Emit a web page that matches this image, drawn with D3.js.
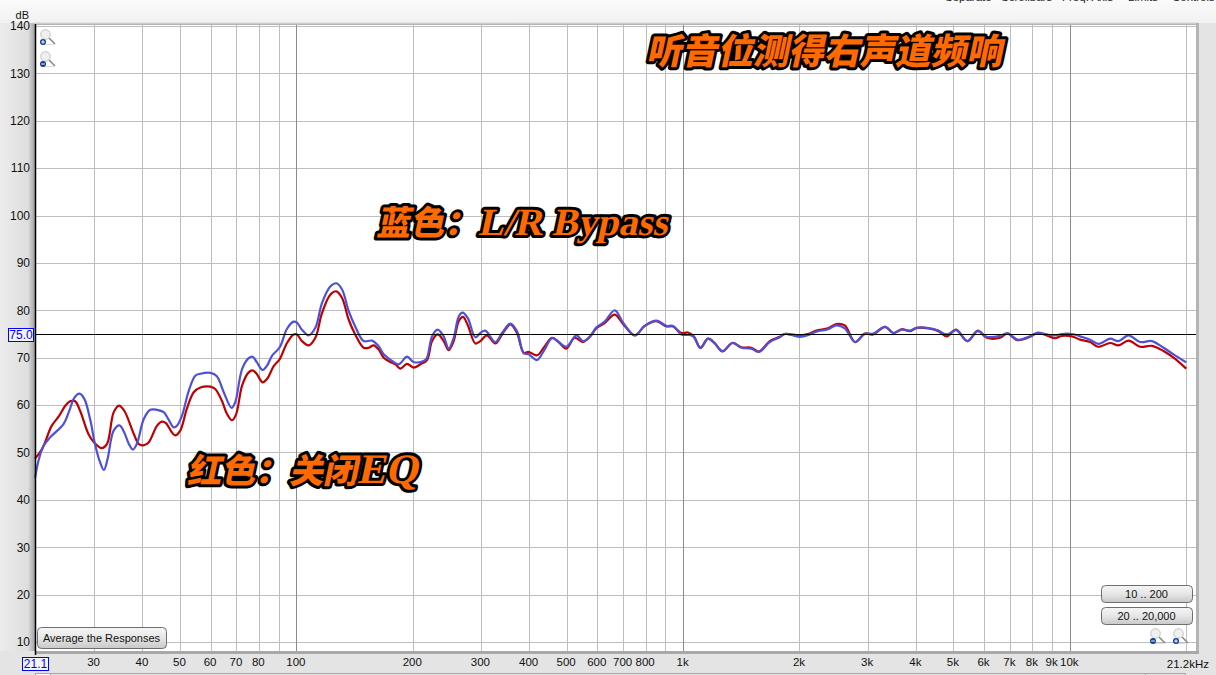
<!DOCTYPE html>
<html>
<head>
<meta charset="utf-8">
<script src="https://cdn.jsdelivr.net/npm/d3@7"></script>
<style>
html, body { margin: 0; padding: 0; background: #e4e4e4; overflow: hidden; }
svg { display: block; }
text { font-family: "Liberation Sans", Arial, sans-serif; }
.banner { font-family: "Noto Sans CJK SC", sans-serif; font-weight: 900; fill: #ff6a00; stroke: #000; stroke-width: 6px; stroke-linejoin: round; paint-order: stroke; }
.banner .latin { font-family: "Liberation Serif", serif; font-weight: 700; }
</style>
</head>
<body>
<div id="chart"></div>
<script>
// frequency in Hz, level in dB
const redFreq = [21.1,22,23.3,24.3,25.3,26.1,26.8,27.6,29,30,31.4,32.4,33.7,34.8,35.9,38,39.1,40.2,41.5,43.6,44.9,46,47.7,48.6,50.1,52.1,54.3,56.5,59.9,61.7,64.2,66.2,68.2,69.9,72.4,75.3,77.1,79.1,81.8,84,87.4,90.6,94.6,98.4,100.4,103.4,107.6,112,116.5,122.4,126.9,131.3,136.6,142,149.3,153.9,158.5,163.3,168.2,175,180.3,185.8,193.3,201,209.3,217.7,224.4,232,240.4,247.7,255.2,263,269.8,277.4,290.4,299.2,311,327,340.4,357.6,372,387.2,399,419.4,436.2,458.4,476.8,499,524.4,551,573.8,597,627,666,699.6,750,796,853,906,942,990,1030,1066,1109,1160,1207,1264,1342,1415,1502,1572,1675,1778,1832,2003,2126,2212,2371,2492,2619,2785,2950,3100,3329,3499,3677,3864,4019,4354,4574,4808,5082,5436,5782,6098,6603,6899,7323,7896,8250,8719,9164,9535,10120,10634,11288,11860,12715,13364,14180,15200,16300,17470,18540,20000];
const redDb = [48.7,50.7,55.6,57.6,59.9,60.85,60.8,58.8,53.9,52.1,50.9,51.8,58.45,59.9,58.8,53.9,51.8,51.5,52.1,55.6,56.5,56.2,54.2,53.6,54.6,59.2,62.7,63.7,63.9,63.4,60.9,58.1,56.8,58.1,64.1,66.9,67.3,66.5,64.8,65.5,68.2,69.7,73.1,74.9,74.9,73.5,72.6,74.2,79.4,83.3,84,82.6,78,74.9,72.1,72.1,72.6,71.7,70,69.1,68.6,67.7,68.7,67.9,68.6,69.5,73.5,74.9,73.5,71.6,73.5,77.7,78.6,76.9,73,73.5,74.7,73,74.9,77,75.2,71,71.2,70.5,72.1,74.2,73.3,71.9,74.2,73.3,74.4,76.2,77.3,79.1,77.1,74.7,76.7,77.7,76.6,76.6,75.2,75.3,74.5,72.1,74,73.1,71.3,73.1,72.2,72.1,71.3,73.5,74.4,75,74.7,75.1,75.7,76.2,77.1,76.8,73.3,75.1,74.9,76.5,75.2,76,75.6,76.3,76.1,75.6,74.5,75.9,73.5,75.7,74.2,74.2,75.1,73.7,74.4,75.2,74.7,74.1,74.6,74.5,73.8,73.3,72.3,73.1,72.6,73.6,72.3,72.5,71.4,70,67.7];
const blueFreq = [21.1,21.6,22.2,23.1,25,25.8,26.7,27.5,28.3,29.3,30.1,31,31.8,32.5,33.7,34.9,35.9,36.9,37.8,38.7,40.3,41.9,43.6,45.4,46.7,48.2,49.1,50.6,52.7,54.8,56.5,59.9,62.3,64.9,68,69.5,72.4,75.3,77.1,79.1,81.8,84,86.5,90.6,94.6,98.4,100.4,103.4,107.6,112,116.5,122.4,126.9,131.3,136.6,142,149.3,156.9,163.3,168.2,175,183.9,193.3,201,213.4,217.7,224.4,232,240.4,247.7,255.2,263,269,277.4,290.4,299.2,308,327,340.4,357.6,372,387.2,399,419.4,436.2,458.4,476.8,499,530,551,573.8,597,627,666,699.6,750,796,853,906,942,990,1040,1066,1109,1160,1207,1264,1342,1415,1502,1572,1675,1778,1832,2003,2126,2212,2371,2492,2619,2785,2950,3100,3329,3499,3677,3864,4019,4354,4574,4808,5082,5436,5782,6098,6603,6899,7323,7896,8250,8719,9164,9535,10120,10634,11288,11860,12715,13364,14180,15200,16300,17470,18540,20000];
const blueDb = [44.6,48.6,51.4,53.2,56,58.5,61.6,62.4,61.3,57,52.1,48.2,46.3,48.6,54.6,55.7,54.2,51.8,50.6,51.8,57,59,59,58.5,57,55.3,55.6,57.7,63,66.2,66.6,66.8,66.1,62.7,59.4,60.6,67.6,69.9,70.2,69,67.4,68.3,70.4,72.2,76.1,77.6,77.4,75.9,74.7,76.3,81.5,85,85.7,84.4,79.8,76.6,73.5,73.6,72.4,70.7,69.6,68.6,70.2,69.1,69.3,70,74.5,75.9,74.5,71.9,74.2,78.7,79.5,78.4,74.3,75.2,75.7,73.3,75.2,77.2,75.6,71,70.7,69.5,71.4,74.1,73.3,72.3,74.7,73.5,74.4,76.4,77.6,80,77.4,74.7,76.7,77.8,76.7,76.7,74.9,74.8,74.4,72,74,73,71.4,73.1,72.1,71.9,71.2,73.3,74.3,75,74.4,74.9,75.5,76,76.8,76.2,73.3,75,75.1,76.5,75.2,75.9,75.7,76.3,76.2,75.7,74.9,75.8,73.5,75.6,74.4,74.6,75.2,73.8,74.5,75.3,74.9,74.7,75,75,74.5,73.8,72.9,74,73.5,74.7,73.3,73.5,72.1,70.7,69];

const dbTicks = [10,20,30,40,50,60,70,80,90,100,110,120,130,140];
const gridFreqs = [30,40,50,60,70,80,90,100,200,300,400,500,600,700,800,900,1000,2000,3000,4000,5000,6000,7000,8000,9000,10000,20000];
const decadeFreqs = [100,1000,10000];
const labelFreqs = [30,40,50,60,70,80,100,200,300,400,500,600,700,800,1000,2000,3000,4000,5000,6000,7000,8000,9000,10000];
const cursorDb = 75;
const freqMin = 21.1, freqMax = 21200;
const dbMin = 8.1, dbMax = 140.2;
const menuLabels = ["Separate","Scrollbars","Freq. Axis","Limits","Controls"];
const menuX = [945,1001,1062,1128,1172];

const width = 1216, height = 675;
const plot = { left: 35, right: 1196, top: 25, bottom: 651 };

const svg = d3.select("#chart").append("svg").attr("width", width).attr("height", height);
const defs = svg.append("defs");

function vGradient(id, stops) {
  const g = defs.append("linearGradient").attr("id", id).attr("x1", 0).attr("x2", 0).attr("y1", 0).attr("y2", 1);
  stops.forEach(s => g.append("stop").attr("offset", s[0]).attr("stop-color", s[1]));
}
vGradient("panelTop", [[0,"#fafafa"],[1,"#f2f2f2"]]);
vGradient("buttonFill", [[0,"#f6f6f6"],[0.5,"#e6e6e6"],[1,"#c8c8c8"]]);
vGradient("shadowTop", [[0,"#f0f0f0"],[1,"#a8a8a8"]]);
const leftGrad = defs.append("linearGradient").attr("id", "panelLeft");
leftGrad.append("stop").attr("offset", 0).attr("stop-color", "#ececec");
leftGrad.append("stop").attr("offset", 0.8).attr("stop-color", "#dedede");
leftGrad.append("stop").attr("offset", 1).attr("stop-color", "#a0a0a0");

// window chrome
svg.append("rect").attr("width", width).attr("height", height).attr("fill", "#e4e4e4");
svg.append("rect").attr("x", 0).attr("y", 22).attr("width", plot.left).attr("height", plot.bottom - 22).attr("fill", "url(#panelLeft)");
svg.append("rect").attr("width", width).attr("height", 23).attr("fill", "url(#panelTop)");
svg.append("rect").attr("x", plot.left - 2).attr("y", plot.top - 3).attr("width", plot.right - plot.left + 4).attr("height", 3).attr("fill", "url(#shadowTop)");
svg.append("rect").attr("x", plot.right).attr("y", plot.top - 2).attr("width", 3).attr("height", plot.bottom - plot.top + 4).attr("fill", "#b4b4b4");
svg.append("rect").attr("x", plot.left).attr("y", plot.bottom).attr("width", plot.right - plot.left + 3).attr("height", 3).attr("fill", "#a8a8a8");
svg.append("rect").attr("x", plot.left).attr("y", plot.top).attr("width", plot.right - plot.left).attr("height", plot.bottom - plot.top).attr("fill", "#fff");

// menu row, cut by the top of the window as in the screenshot
svg.selectAll(".menu").data(menuLabels).join("text").attr("class", "menu")
  .attr("x", (d, i) => menuX[i]).attr("y", 1).attr("font-size", 11.5).attr("fill", "#222").text(d => d);

const x = d3.scaleLog().domain([freqMin, freqMax]).range([plot.left, plot.right]);
const y = d3.scaleLinear().domain([dbMin, dbMax]).range([plot.bottom, plot.top]);

// grid
svg.append("g").selectAll("line").data(dbTicks).join("line")
  .attr("x1", plot.left).attr("x2", plot.right)
  .attr("y1", d => Math.round(y(d)) + 0.5).attr("y2", d => Math.round(y(d)) + 0.5)
  .attr("stroke", "#bdbdbd");
svg.append("g").selectAll("line").data(gridFreqs).join("line")
  .attr("x1", d => Math.round(x(d)) + 0.5).attr("x2", d => Math.round(x(d)) + 0.5)
  .attr("y1", plot.top).attr("y2", plot.bottom)
  .attr("stroke", d => decadeFreqs.includes(d) ? "#8c8c8c" : "#bdbdbd");

// curves
const line = d3.line().curve(d3.curveCatmullRom.alpha(0.5)).x(d => x(d[0])).y(d => y(d[1]));
svg.append("path").datum(d3.zip(redFreq, redDb)).attr("d", line)
  .attr("fill", "none").attr("stroke", "#bf0000").attr("stroke-width", 2.2);
svg.append("path").datum(d3.zip(blueFreq, blueDb)).attr("d", line)
  .attr("fill", "none").attr("stroke", "#4e50d8").attr("stroke-width", 2.2);

// cursor line and left axis line
svg.append("line").attr("x1", plot.left).attr("x2", plot.right)
  .attr("y1", Math.round(y(cursorDb)) + 0.5).attr("y2", Math.round(y(cursorDb)) + 0.5).attr("stroke", "#000");
svg.append("line").attr("x1", plot.left + 0.5).attr("x2", plot.left + 0.5).attr("y1", plot.top - 1).attr("y2", plot.bottom + 4)
  .attr("stroke", "#000").attr("stroke-width", 1.5);

// axes
const yAxis = d3.axisLeft(y).tickValues(dbTicks).tickSize(0).tickPadding(0);
const yg = svg.append("g").attr("transform", `translate(${plot.left - 5},0)`).call(yAxis);
yg.select(".domain").remove();
yg.selectAll("text").attr("font-size", 12).attr("fill", "#111").style("font-family", '"Liberation Sans"');

const fmtFreq = d => d >= 1000 ? (d / 1000) + "k" : String(d);
const xAxis = d3.axisBottom(x).tickValues(labelFreqs).tickFormat(fmtFreq).tickSize(0).tickPadding(0);
const xg = svg.append("g").attr("transform", `translate(-1,${plot.bottom + 7})`).call(xAxis);
xg.select(".domain").remove();
xg.selectAll("text").attr("font-size", 11.5).attr("fill", "#111").style("font-family", '"Liberation Sans"');

svg.append("text").attr("x", 29).attr("y", 19).attr("text-anchor", "end").attr("font-size", 11).attr("fill", "#111").text("dB");
svg.append("text").attr("x", 1209).attr("y", 668).attr("text-anchor", "end").attr("font-size", 11.5).attr("fill", "#111").text("21.2kHz");

// blue value boxes
function valueBox(bx, by, w, h, label) {
  svg.append("rect").attr("x", bx + 0.5).attr("y", by + 0.5).attr("width", w).attr("height", h).attr("fill", "#f4f4f4").attr("stroke", "#0000ff");
  svg.append("text").attr("x", bx + w / 2 + 0.5).attr("y", by + h - 2.5).attr("text-anchor", "middle").attr("font-size", 12).attr("fill", "#0000ff").text(label);
}
valueBox(8, 328, 25, 13, "75.0");
valueBox(22, 657, 26, 13, "21.1");

// strip of the table below the graph
svg.append("line").attr("x1", 35).attr("x2", 1186).attr("y1", 673.5).attr("y2", 673.5).attr("stroke", "#a8a8a8");
[35, 50, 1145, 1185].forEach(v => svg.append("line").attr("x1", v + 0.5).attr("x2", v + 0.5).attr("y1", 673).attr("y2", 675).attr("stroke", "#a8a8a8"));
svg.append("rect").attr("x", 36).attr("y", 674).attr("width", 14).attr("height", 1).attr("fill", "#fff");

// buttons
function button(bx, by, w, h, label, size) {
  svg.append("rect").attr("x", bx + 0.5).attr("y", by + 0.5).attr("width", w).attr("height", h).attr("rx", 4)
    .attr("fill", "url(#buttonFill)").attr("stroke", "#6e6e6e");
  svg.append("text").attr("x", bx + w / 2).attr("y", by + h / 2 + 4).attr("text-anchor", "middle")
    .attr("font-size", size).attr("fill", "#111").text(label);
}
button(37, 627, 129, 21, "Average the Responses", 11);
button(1101, 585, 91, 17, "10 .. 200", 11);
button(1101, 607, 91, 17, "20 .. 20,000", 11);

// zoom icons
function zoomIcon(ix, iy, plus) {
  const g = svg.append("g").attr("transform", `translate(${ix},${iy})`);
  g.append("line").attr("x1", 9).attr("y1", 9).attr("x2", 15).attr("y2", 15).attr("stroke", "#8a8a8a").attr("stroke-width", 1.6);
  g.append("line").attr("x1", 1).attr("y1", 15.5).attr("x2", 15).attr("y2", 15.5).attr("stroke", "#dcdcdc");
  g.append("circle").attr("cx", 5.5).attr("cy", 5.5).attr("r", 4.8).attr("fill", "#f0f0f0").attr("stroke", "#c4c4c4");
  g.append("circle").attr("cx", 3).attr("cy", 13).attr("r", 3).attr("fill", "#123c9c");
  g.append("line").attr("x1", 1.2).attr("x2", 4.8).attr("y1", 13).attr("y2", 13).attr("stroke", "#fff");
  if (plus) g.append("line").attr("x1", 3).attr("x2", 3).attr("y1", 11.2).attr("y2", 14.8).attr("stroke", "#fff");
}
zoomIcon(40, 29, true);
zoomIcon(40, 51, false);
zoomIcon(1150, 628, false);
zoomIcon(1173, 628, true);

// orange notes on the graph
function banner(tx, ty, size, parts) {
  const t = svg.append("text").attr("class", "banner")
    .attr("transform", `translate(${tx},${ty}) skewX(-12)`).attr("font-size", size);
  parts.forEach(p => {
    const s = t.append("tspan").text(p[0]);
    if (p[1]) s.attr("class", "latin").attr("font-size", p[1]);
  });
}
banner(646, 63.5, 35.6, [["听音位测得右声道频响"]]);
banner(376, 235, 34, [["蓝色\uFF1A"], ["L/R Bypass", 38.5]]);
banner(187, 483, 34, [["红色\uFF1A关闭"], ["EQ", 42]]);
</script>
</body>
</html>
